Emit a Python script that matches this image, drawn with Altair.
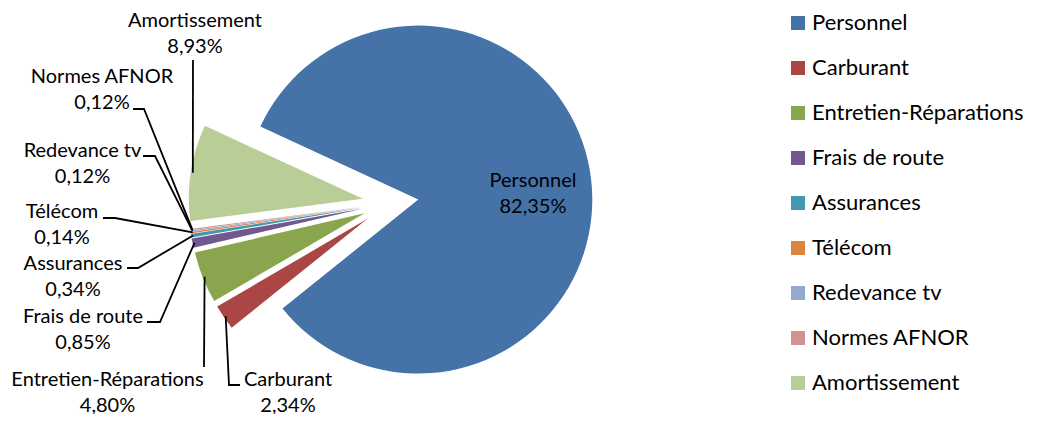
import altair as alt
import pandas as pd
import numpy as np

# ---------------- data ----------------
categories = ["Personnel", "Carburant", "Entretien-Réparations", "Frais de route",
              "Assurances", "Télécom", "Redevance tv", "Normes AFNOR", "Amortissement"]
shares = [82.35, 2.34, 4.80, 0.85, 0.34, 0.14, 0.12, 0.12, 8.93]
colors = ["#4572A7", "#AA4643", "#89A54E", "#71588F", "#4198AF",
          "#DB843D", "#93A9CF", "#D19392", "#B9CD96"]

# ---------------- layout (page pixels) ----------------
OFF = 8
W, H = 1025, 406
CX, CY = 390.5, 203.0      # pie centre
R = 174                    # pie radius
EXPLODE = 28               # explosion distance
START_DEG = 294.8          # angle of first slice
LEADER_R = 172
LINE_H = 26

# label block centres (first line centre = block centre - LINE_H/2)
label_pos = {
    "Personnel": (533, 194),
    "Carburant": (288, 393),
    "Entretien-Réparations": (107.5, 393),
    "Frais de route": (83, 330),
    "Assurances": (73, 276.5),
    "Télécom": (62, 225),
    "Redevance tv": (82.5, 163.5),
    "Normes AFNOR": (102, 90),
    "Amortissement": (195, 34),
}
# leader line points on the label side (the slice end is computed)
leader_pts = {
    "Carburant": [(240, 385), (229, 385)],
    "Entretien-Réparations": [(204, 367)],
    "Frais de route": [(147, 322), (160, 322)],
    "Assurances": [(127, 268), (138, 268)],
    "Télécom": [(103, 218), (115, 218)],
    "Redevance tv": [(143, 156), (155, 156)],
    "Normes AFNOR": [(133, 109), (144, 109)],
    "Amortissement": [(193, 60)],
}

# ---------------- geometry from data ----------------
vals = np.array(shares, dtype=float)
total = vals.sum()
cum = np.cumsum(vals)
t0 = np.radians(START_DEG)
start = t0 + 2 * np.pi * (cum - vals) / total
end = t0 + 2 * np.pi * cum / total
mid = (start + end) / 2
ax_ = CX + EXPLODE * np.sin(mid)
ay_ = CY - EXPLODE * np.cos(mid)


def pct(v):
    return f"{v:.2f}".replace(".", ",") + "%"


arcs = pd.DataFrame({
    "cat": categories,
    "start": start,
    "end": end,
    "ax": ax_ - OFF,
    "ay": ay_ - OFF,
})

labels = pd.DataFrame({
    "cat": categories,
    "text": [f"{c}\n{pct(v)}" for c, v in zip(categories, shares)],
    "lx": [label_pos[c][0] - OFF for c in categories],
    "ly": [label_pos[c][1] - LINE_H / 2 - OFF for c in categories],
})

rows = []
for i, c in enumerate(categories):
    if c not in leader_pts:
        continue
    pts = list(leader_pts[c])
    ex = ax_[i] + LEADER_R * np.sin(mid[i])
    ey = ay_[i] - LEADER_R * np.cos(mid[i])
    pts.append((ex, ey))
    for k, (px, py) in enumerate(pts):
        rows.append({"cat": c, "k": k, "x": px - OFF, "y": py - OFF})
leaders = pd.DataFrame(rows)

FONT = "Lato"

pie = alt.Chart(arcs).mark_arc(radius=R).encode(
    x=alt.X("ax:Q", scale=None, axis=None),
    y=alt.Y("ay:Q", scale=None, axis=None),
    theta=alt.Theta("start:Q", scale=None, stack=None),
    theta2=alt.Theta2("end:Q"),
    color=alt.Color(
        "cat:N",
        scale=alt.Scale(domain=categories, range=colors),
        sort=categories,
        legend=alt.Legend(
            title=None, orient="none", legendX=779, legendY=4,
            symbolType="square", symbolSize=196, symbolStrokeWidth=0,
            labelFont=FONT, labelFontSize=22, labelColor="#000000",
            labelOffset=3, rowPadding=23, padding=0,
            labelLimit=400,
        ),
    ),
)

lines = alt.Chart(leaders).mark_line(color="#000000", strokeWidth=1.8).encode(
    x=alt.X("x:Q", scale=None, axis=None),
    y=alt.Y("y:Q", scale=None, axis=None),
    detail="cat:N",
    order="k:Q",
)

texts = alt.Chart(labels).mark_text(
    font=FONT, fontSize=20, lineBreak="\n", lineHeight=LINE_H,
    align="center", baseline="middle", color="#000000",
).encode(
    x=alt.X("lx:Q", scale=None, axis=None),
    y=alt.Y("ly:Q", scale=None, axis=None),
    text="text:N",
)

chart = alt.layer(pie, lines, texts).properties(
    width=W, height=H, padding=0, autosize="none", background="white",
).configure_view(stroke=None)

chart.save("out.html", embed_options={"renderer": "svg", "actions": False})
